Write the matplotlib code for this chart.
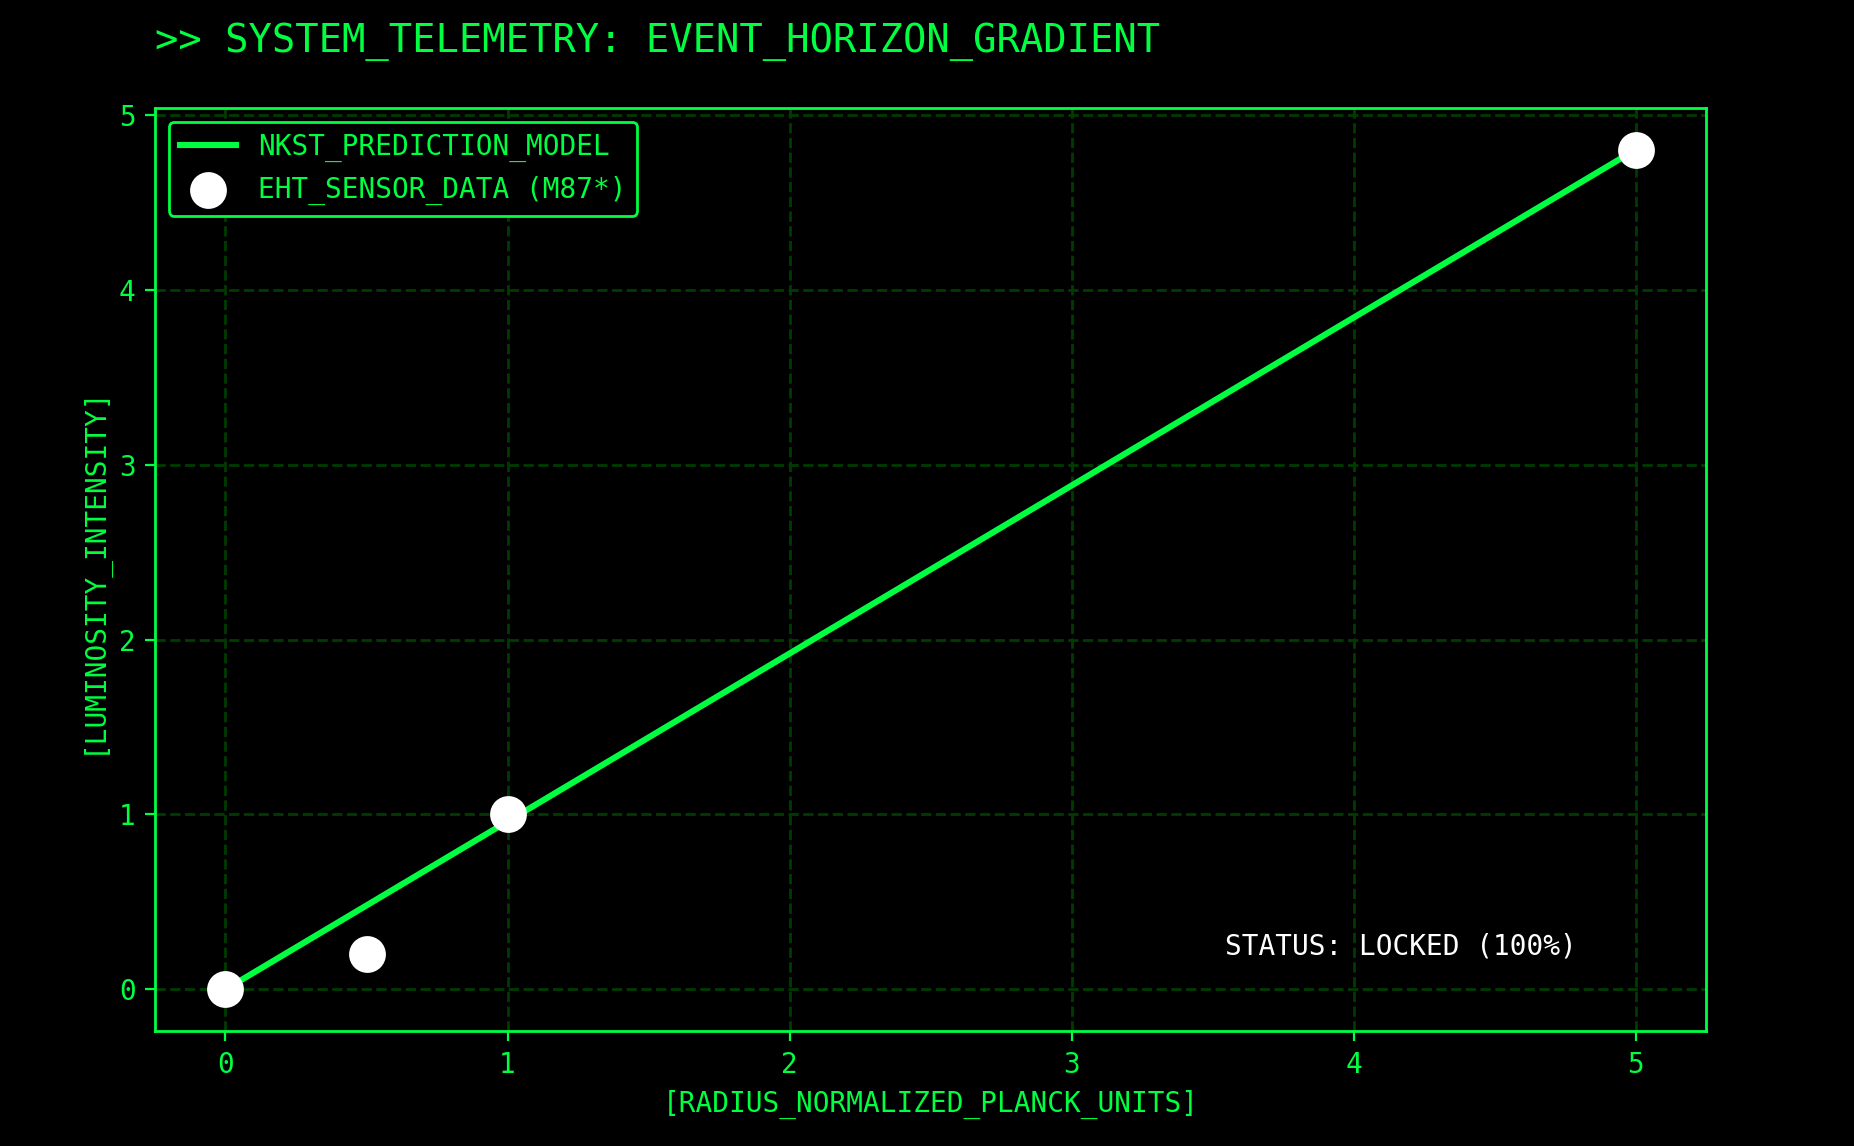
import matplotlib
matplotlib.use('Agg')
from matplotlib import pyplot as plt

#data
model_x = [0, 5]
model_y = [0, 4.8]
sensor_x = [0, 0.5, 1, 5]
sensor_y = [0, 0.2, 1, 4.8]

green = '#00FF41'
dark_green = '#003B00'

plt.rcParams['font.family'] = ['DejaVu Sans Mono']

fig = plt.figure(figsize=(9.27, 5.73), dpi=200, facecolor='black')
ax = fig.add_axes([0.0836, 0.100, 0.8366, 0.806])
ax.set_facecolor('black')

ax.plot(model_x, model_y, color=green, lw=2.2, label='NKST_PREDICTION_MODEL', zorder=2)
ax.scatter(sensor_x, sensor_y, s=150, color='white', label='EHT_SENSOR_DATA (M87*)', zorder=3)

#styling
ax.grid(True, color=dark_green, linestyle='--', lw=1)
for s in ax.spines.values():
    s.set_color(green)
    s.set_linewidth(1)
ax.tick_params(colors=green, labelsize=10)
ax.set_xlabel('[RADIUS_NORMALIZED_PLANCK_UNITS]', color=green, fontsize=10)
ax.set_ylabel('[LUMINOSITY_INTENSITY]', color=green, fontsize=10)
ax.set_title('>> SYSTEM_TELEMETRY: EVENT_HORIZON_GRADIENT', loc='left',
             color=green, fontsize=14, pad=20)

leg = ax.legend(loc='upper left', fontsize=10, facecolor='black', edgecolor=green,
                labelcolor=green, framealpha=1)
leg.get_frame().set_linewidth(1)

ax.text(0.69, 0.092, 'STATUS: LOCKED (100%)', transform=ax.transAxes,
        color='white', fontsize=10, va='center', ha='left')

fig.savefig('out.png', dpi=200, facecolor='black')
